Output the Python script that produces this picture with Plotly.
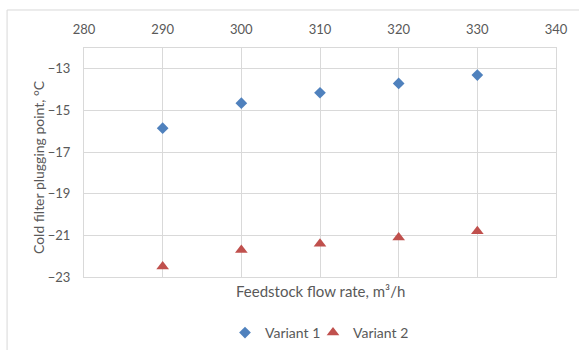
import plotly.graph_objects as go

# Feedstock flow rate, m3/h
flow_rate = [290, 300, 310, 320, 330]
# Cold filter plugging point, °C
variant_1 = [-15.85, -14.65, -14.15, -13.7, -13.3]
variant_2 = [-22.5, -21.7, -21.4, -21.1, -20.8]

x_ticks = [280, 290, 300, 310, 320, 330, 340]
y_ticks = [-23, -21, -19, -17, -15, -13]

TEXT = "#595959"
GRID = "#D9D9D9"
FONT = "Lato, 'Open Sans', sans-serif"

fig = go.Figure()
fig.add_trace(go.Scatter(
    x=flow_rate, y=variant_1, mode="markers", name="Variant 1",
    marker=dict(symbol="diamond", size=9, color="#4F81BD"),
    legend="legend",
))
fig.add_trace(go.Scatter(
    x=flow_rate, y=variant_2, mode="markers", name="Variant 2",
    marker=dict(symbol="triangle-up", size=11, color="#C0504D"),
    legend="legend2",
))

legend_style = dict(
    orientation="h", xanchor="left", xref="container",
    y=1 - 333 / 350, yanchor="middle", yref="container",
    font=dict(size=14, color=TEXT), itemwidth=30,
    bgcolor="rgba(0,0,0,0)",
)

fig.update_layout(
    width=579, height=350,
    margin=dict(l=84, r=23, t=48, b=73, autoexpand=False),
    paper_bgcolor="white", plot_bgcolor="white",
    font=dict(family=FONT, size=13, color=TEXT),
    showlegend=True,
    legend=dict(x=225 / 579, **legend_style),
    legend2=dict(x=313 / 579, **legend_style),
    xaxis=dict(
        side="top", range=[280, 340], tickvals=x_ticks,
        showgrid=True, gridcolor=GRID, gridwidth=1,
        showline=True, linecolor=GRID, linewidth=1, mirror=True,
        zeroline=False,
        ticks="outside", ticklen=8, tickcolor="rgba(0,0,0,0)",
        tickfont=dict(size=13, color=TEXT),
    ),
    yaxis=dict(
        range=[-23, -12], tickvals=y_ticks,
        showgrid=True, gridcolor=GRID, gridwidth=1,
        showline=True, linecolor=GRID, linewidth=1, mirror=True,
        zeroline=False,
        ticks="outside", ticklen=10, tickcolor="rgba(0,0,0,0)",
        tickfont=dict(size=13, color=TEXT),
    ),
    annotations=[
        dict(
            text="Feedstock flow rate, m³/h",
            xref="paper", yref="paper", x=0.5, y=0,
            xanchor="center", yanchor="top", yshift=-3,
            showarrow=False, font=dict(size=15, color=TEXT),
        ),
        dict(
            text="Cold filter plugging point, °C",
            xref="paper", yref="paper", x=-0.0975, y=0.48,
            xanchor="center", yanchor="middle", textangle=-90,
            showarrow=False, font=dict(size=14, color=TEXT),
        ),
    ],
    shapes=[
        # chart-area frame
        dict(
            type="rect", xref="paper", yref="paper",
            x0=-0.163, x1=1.5, y0=-0.6, y1=1.166,
            line=dict(color=GRID, width=1), layer="below",
        ),
    ],
)

fig.write_html("out.html")
